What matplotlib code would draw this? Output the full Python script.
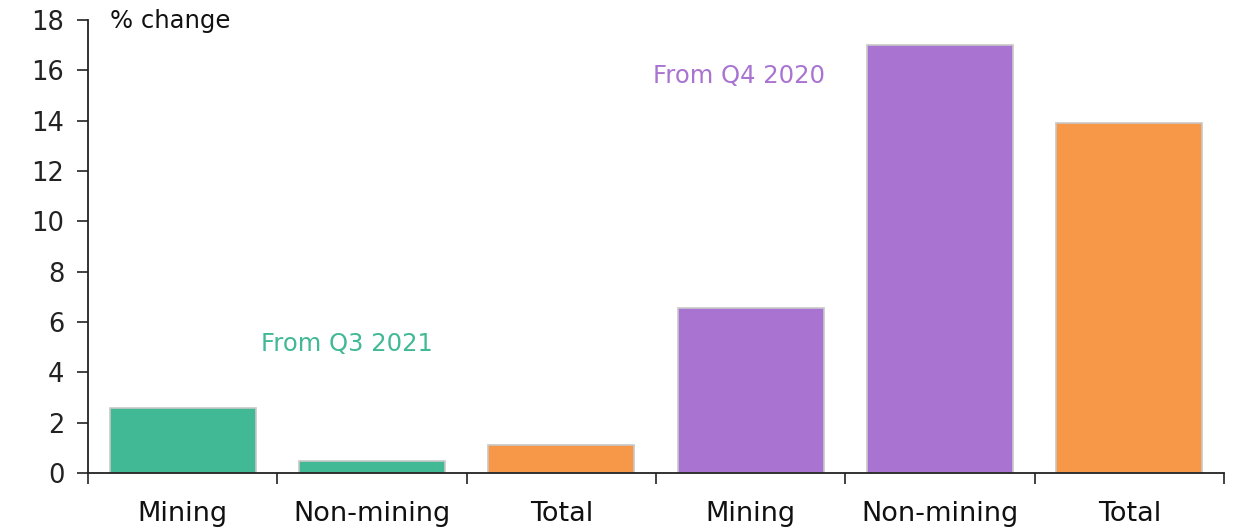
import matplotlib.pyplot as plt
import numpy as np

categories = ["Mining", "Non-mining", "Total", "Mining", "Non-mining", "Total"]
values = [2.6, 0.5, 1.1, 6.55, 17.0, 13.9]
colours = ["#41B995", "#41B995", "#F69847", "#A974D1", "#A974D1", "#F69847"]

plt.rcParams['font.family'] = ['DejaVu Sans']

fig = plt.figure(figsize=(12.34, 5.28), dpi=100)
ax = fig.add_axes([0.0713, 0.104, 0.9206, 0.858])

x = np.arange(len(categories))
ax.bar(x, values, width=0.77, color=colours, edgecolor="#C8C8C8", linewidth=1.2, zorder=2)

ax.set_xlim(-0.5, len(categories) - 0.5)
ax.set_ylim(0, 18)
ax.set_yticks(np.arange(0, 19, 2))
ax.tick_params(axis='y', labelsize=18.5, length=8, width=1.2, direction='out', pad=9, colors='#222222')
ax.set_xticks(x)
ax.set_xticklabels(categories)
ax.tick_params(axis='x', which='major', length=0, labelsize=19.5, pad=20, colors='#111111')
ax.set_xticks(np.arange(-0.5, len(categories), 1), minor=True)
ax.tick_params(axis='x', which='minor', length=8, width=1.2, direction='out', color='#222222')

for side in ['top', 'right']:
    ax.spines[side].set_visible(False)
for side in ['left', 'bottom']:
    ax.spines[side].set_linewidth(1.3)
    ax.spines[side].set_color('#222222')

ax.text(-0.384, 17.95, "% change", fontsize=17.5, va='center', ha='left', color='#111111')
ax.text(0.414, 5.13, "From Q3 2021", fontsize=17.5, va='center', ha='left', color='#41B995')
ax.text(2.485, 15.77, "From Q4 2020", fontsize=17.5, va='center', ha='left', color='#A974D1')

fig.savefig("out.png", dpi=100)
